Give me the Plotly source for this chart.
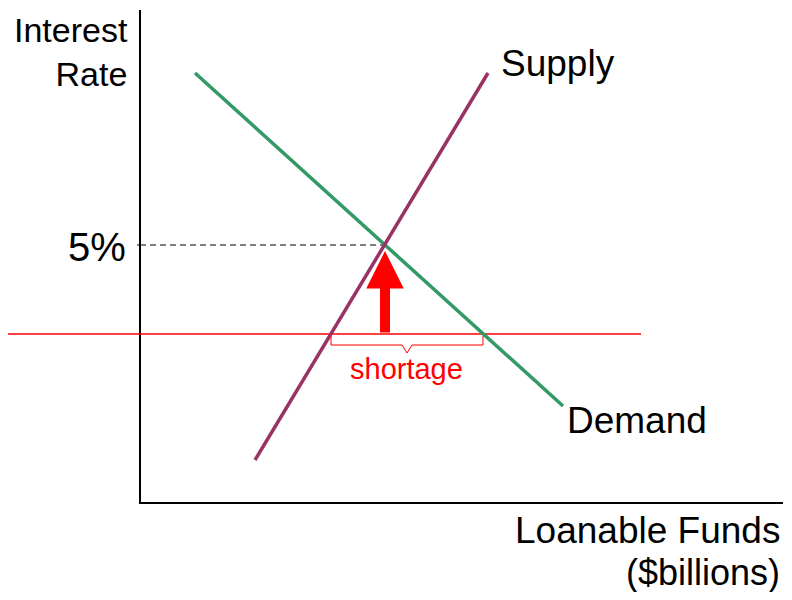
import plotly.graph_objects as go

# chart units: origin at the axes corner, 1 unit ~ 1 px
demand_x = [55, 423]
demand_y = [430, 97]
supply_x = [115, 348]
supply_y = [43, 430]

eq_x, eq_y = 245, 258          # equilibrium (5%)
ceiling_y = 169                # rate held below equilibrium
ceiling_x = [-140, 501]
short_lo, short_hi = 191, 343  # quantity supplied / demanded at ceiling

bracket_x = [short_lo, short_lo, 262, 267, 272, short_hi, short_hi]
bracket_y = [167, 158, 158, 150, 158, 158, 167]

FONT = "Liberation Sans, Arial, sans-serif"
GREEN = "#339966"
PURPLE = "#993366"

fig = go.Figure()

# axes
fig.add_trace(go.Scatter(x=[0, 0, 643], y=[493, 0, 0], mode="lines",
                         line=dict(color="black", width=2), hoverinfo="skip"))
fig.add_trace(go.Scatter(x=[-3, 0], y=[eq_y, eq_y], mode="lines",
                         line=dict(color="black", width=1), hoverinfo="skip"))

# dashed guide to 5%
fig.add_trace(go.Scatter(x=[0, eq_x], y=[eq_y, eq_y], mode="lines",
                         line=dict(color="black", width=1, dash="6px,4px"),
                         hoverinfo="skip"))

# price ceiling
fig.add_trace(go.Scatter(x=ceiling_x, y=[ceiling_y, ceiling_y], mode="lines",
                         line=dict(color="#ff0000", width=1.3), hoverinfo="skip"))

fig.add_trace(go.Scatter(x=demand_x, y=demand_y, mode="lines",
                         line=dict(color=GREEN, width=3.5), name="Demand"))
fig.add_trace(go.Scatter(x=supply_x, y=supply_y, mode="lines",
                         line=dict(color=PURPLE, width=3.5), name="Supply"))

# shortage bracket
fig.add_trace(go.Scatter(x=bracket_x, y=bracket_y, mode="lines",
                         line=dict(color="#ff0000", width=1), hoverinfo="skip"))

# arrow up toward equilibrium
fig.add_annotation(x=eq_x, y=eq_y - 6, ax=eq_x, ay=ceiling_y,
                   xref="x", yref="y", axref="x", ayref="y",
                   text="", showarrow=True, arrowhead=2, arrowsize=0.75,
                   arrowwidth=10, arrowcolor="#ff0000")

# y-axis title kept just inside the top edge
fig.add_annotation(x=-10, y=494, text="Interest<br>Rate", showarrow=False,
                   xanchor="right", yanchor="top", align="right",
                   font=dict(family=FONT, size=34, color="black"))

labels = [
    ("5%", -12, eq_y - 2, "right", 40, "black"),
    ("Supply", 359, 440, "left", 37, "black"),
    ("Demand", 425, 83, "left", 37, "black"),
    ("Loanable Funds", 642, -27, "right", 37, "black"),
    ("($billions)", 642, -69, "right", 36, "black"),
    ("shortage", 266, 134, "center", 29, "#ff0000"),
]
for txt, x, y, anchor, size, color in labels:
    fig.add_annotation(x=x, y=y, text=txt, showarrow=False, xanchor=anchor,
                       yanchor="middle", font=dict(family=FONT, size=size, color=color))

# page body has an 8px margin: keep the figure inside it (no scrollbars)
fig.update_layout(
    width=776, height=584,
    margin=dict(l=0, r=0, t=0, b=0),
    paper_bgcolor="white", plot_bgcolor="white",
    showlegend=False,
    xaxis=dict(range=[-132, 644], visible=False, fixedrange=True),
    yaxis=dict(range=[-89, 495], visible=False, fixedrange=True),
)

fig.write_html("out.html")
